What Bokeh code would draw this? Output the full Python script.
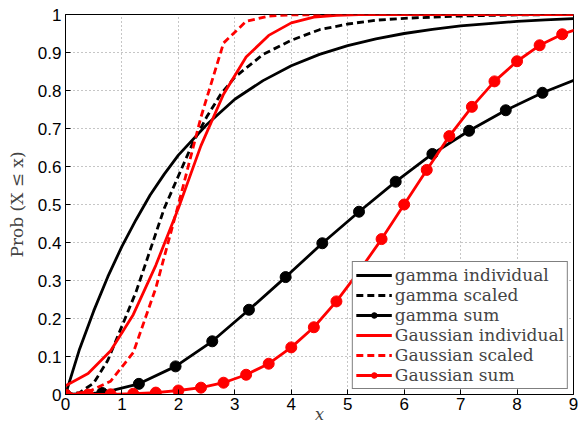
from bokeh.plotting import figure
from bokeh.models import Range1d, FixedTicker, Legend, LegendItem
from bokeh.embed import file_html
from bokeh.resources import INLINE

# ---------------- data ----------------
x_ticks = [0, 1, 2, 3, 4, 5, 6, 7, 8, 9]
x_tick_labels = ["0", "1", "2", "3", "4", "5", "6", "7", "8", "9"]
y_ticks = [0, 0.1, 0.2, 0.3, 0.4, 0.5, 0.6, 0.7, 0.8, 0.9, 1.0]
y_tick_labels = ["0", "0.1", "0.2", "0.3", "0.4", "0.5", "0.6", "0.7", "0.8", "0.9", "1"]

gamma_ind_x = [0, 0.25, 0.5, 0.75, 1, 1.25, 1.5, 1.75, 2, 2.5, 3, 3.5, 4, 4.5, 5, 5.5, 6, 6.5, 7, 7.5, 8, 8.5, 9]
gamma_ind_y = [0, 0.12, 0.22, 0.31, 0.39, 0.46, 0.525, 0.58, 0.63, 0.71, 0.777, 0.826, 0.865, 0.895, 0.918, 0.936,
               0.95, 0.961, 0.97, 0.976, 0.982, 0.986, 0.989]

gamma_sc_x = [0, 0.25, 0.5, 0.75, 1, 1.25, 1.5, 1.75, 2, 2.25, 2.5, 2.75, 3, 3.5, 4, 4.5, 5, 5.5, 6, 7, 8, 9]
gamma_sc_y = [0, 0.005, 0.03, 0.09, 0.18, 0.27, 0.38, 0.49, 0.575, 0.66, 0.73, 0.79, 0.835, 0.895, 0.932, 0.96,
              0.975, 0.985, 0.99, 0.996, 0.999, 1.0]

gamma_sum_x = [0, 0.65, 1.3, 1.95, 2.6, 3.25, 3.9, 4.55, 5.2, 5.85, 6.5, 7.15, 7.8, 8.45, 9.1]
gamma_sum_y = [0, 0.004, 0.028, 0.074, 0.14, 0.223, 0.309, 0.398, 0.481, 0.56, 0.633, 0.694, 0.748, 0.794, 0.832]

gauss_ind_x = [0, 0.4, 0.8, 1.2, 1.6, 2.0, 2.4, 2.8, 3.2, 3.6, 4.0, 4.4, 4.8, 5.2, 5.6, 6.0, 7.0, 8.0, 9.0]
gauss_ind_y = [0.023, 0.055, 0.115, 0.21, 0.34, 0.49, 0.655, 0.79, 0.888, 0.945, 0.978, 0.993, 0.998, 1.0, 1.0,
               1.0, 1.0, 1.0, 1.0]

gauss_sc_x = [0, 0.4, 0.8, 1.2, 1.6, 2.0, 2.4, 2.8, 3.2, 3.6, 4.0, 5.0, 6.0, 7.0, 8.0, 9.0]
gauss_sc_y = [0, 0.007, 0.035, 0.11, 0.28, 0.5, 0.73, 0.925, 0.982, 0.996, 0.999, 1.0, 1.0, 1.0, 1.0, 1.0]

gauss_sum_x = [0, 0.4, 0.8, 1.2, 1.6, 2.0, 2.4, 2.8, 3.2, 3.6, 4.0, 4.4, 4.8, 5.2, 5.6, 6.0, 6.4, 6.8, 7.2, 7.6,
               8.0, 8.4, 8.8, 9.2]
gauss_sum_y = [0, 0, 0.0005, 0.002, 0.005, 0.0105, 0.018, 0.031, 0.052, 0.081, 0.124, 0.177, 0.245, 0.324, 0.409,
               0.5, 0.591, 0.68, 0.757, 0.824, 0.877, 0.919, 0.948, 0.968]

labels = ["gamma individual", "gamma scaled", "gamma sum",
          "Gaussian individual", "Gaussian scaled", "Gaussian sum"]

# ---------------- figure ----------------
TICK_FONT = "Liberation Sans"
SERIF = "DejaVu Serif"

p = figure(width=578, height=426, output_backend="svg", toolbar_location=None,
           x_range=Range1d(0, 9), y_range=Range1d(0, 1),
           min_border_left=65, min_border_right=5, min_border_top=14, min_border_bottom=31,
           background_fill_color="white", border_fill_color="white")
p.outline_line_color = "black"
p.outline_line_width = 1

for ax in (p.xaxis[0], p.yaxis[0]):
    ax.major_label_text_font = TICK_FONT
    ax.major_label_text_font_size = "17px"
    ax.major_label_text_color = "black"
    ax.major_tick_in = 5
    ax.major_tick_out = 0
    ax.minor_tick_line_color = None
    ax.axis_line_color = "black"
    ax.major_tick_line_color = "black"

p.xaxis[0].ticker = FixedTicker(ticks=x_ticks)
p.xaxis[0].major_label_overrides = dict(zip(x_ticks, x_tick_labels))
p.xaxis[0].major_label_standoff = 3
p.xaxis[0].axis_label = "x"
p.xaxis[0].axis_label_text_font = SERIF
p.xaxis[0].axis_label_text_font_style = "italic"
p.xaxis[0].axis_label_text_font_size = "16px"
p.xaxis[0].axis_label_standoff = -8

p.yaxis[0].ticker = FixedTicker(ticks=y_ticks)
p.yaxis[0].major_label_overrides = dict(zip(y_ticks, y_tick_labels))
p.yaxis[0].major_label_standoff = 4
p.yaxis[0].axis_label = "Prob (X \u2264 x)"
p.yaxis[0].axis_label_text_font = SERIF
p.yaxis[0].axis_label_text_font_style = "normal"
p.yaxis[0].axis_label_text_font_size = "17px"
p.yaxis[0].axis_label_standoff = 8

for g, tl in ((p.xgrid[0], x_ticks), (p.ygrid[0], y_ticks)):
    g.ticker = FixedTicker(ticks=tl)
    g.grid_line_color = "#8c8c8c"
    g.grid_line_dash = "1 3"
    g.grid_line_width = 1

LW = 2.8
MS = 11
r1 = p.line(gamma_ind_x, gamma_ind_y, line_color="black", line_width=LW)
r2 = p.line(gamma_sc_x, gamma_sc_y, line_color="black", line_width=LW, line_dash="7 4")
r3l = p.line(gamma_sum_x, gamma_sum_y, line_color="black", line_width=LW)
r3m = p.scatter(gamma_sum_x, gamma_sum_y, marker="circle", size=MS, fill_color="black", line_color="black")
r4 = p.line(gauss_ind_x, gauss_ind_y, line_color="red", line_width=LW)
r5 = p.line(gauss_sc_x, gauss_sc_y, line_color="red", line_width=LW, line_dash="7 4")
r6l = p.line(gauss_sum_x, gauss_sum_y, line_color="red", line_width=LW)
r6m = p.scatter(gauss_sum_x, gauss_sum_y, marker="circle", size=MS, fill_color="red", line_color="red")

items = [LegendItem(label=labels[0], renderers=[r1]),
         LegendItem(label=labels[1], renderers=[r2]),
         LegendItem(label=labels[2], renderers=[r3l, r3m]),
         LegendItem(label=labels[3], renderers=[r4]),
         LegendItem(label=labels[4], renderers=[r5]),
         LegendItem(label=labels[5], renderers=[r6l, r6m])]
legend = Legend(items=items, location="bottom_right", margin=5, padding=3, spacing=0,
                glyph_width=36, glyph_height=14, label_height=14, label_standoff=3,
                label_text_font=SERIF, label_text_font_size="17px",
                border_line_color="black", border_line_width=1.5,
                background_fill_color="white", background_fill_alpha=1.0)
p.add_layout(legend, "center")

open("out.html", "w").write(file_html(p, INLINE))
